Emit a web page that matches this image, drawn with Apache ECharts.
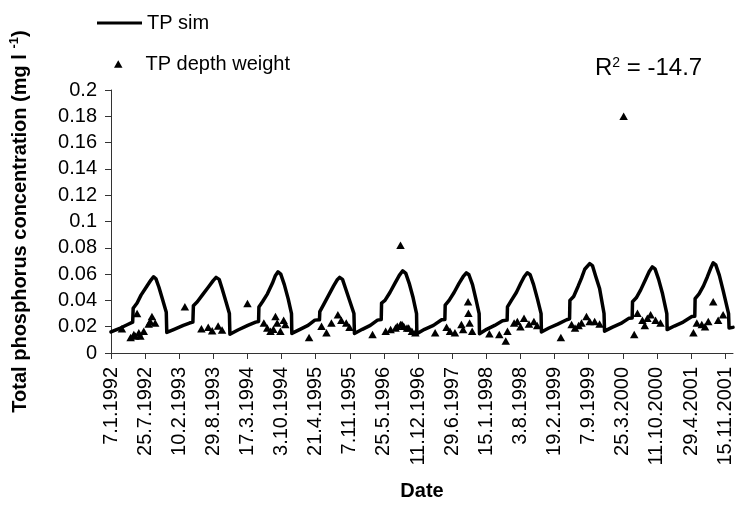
<!DOCTYPE html>
<html>
<head>
<meta charset="utf-8">
<script src="https://cdn.jsdelivr.net/npm/echarts@6/dist/echarts.min.js"></script>
<style>
html,body{margin:0;padding:0;background:#fff;}
#chart{width:737px;height:506px;}
</style>
</head>
<body>
<div id="chart"></div>
<script>
// x tick labels (dates, d.m.yyyy)
const xTickLabels = ['7.1.1992','25.7.1992','10.2.1993','29.8.1993','17.3.1994','3.10.1994','21.4.1995','7.11.1995','25.5.1996','11.12.1996','29.6.1997','15.1.1998','3.8.1998','19.2.1999','7.9.1999','25.3.2000','11.10.2000','29.4.2001','15.11.2001'];
const axisEndDate = '31.12.2001';
const yTicks = [0,0.02,0.04,0.06,0.08,0.1,0.12,0.14,0.16,0.18,0.2];

// TP sim: x = days since 7.1.1992, y = mg/l
const simDay = [
0, 55, 95, 127,
130, 153, 176, 211, 234, 250, 263, 281, 304, 324, 327,
367, 424, 460, 480,
483, 506, 535, 570, 599, 616, 634, 651, 674, 694, 697,
744, 802, 848, 865,
867, 888, 917, 946, 964, 979, 995, 1016, 1039, 1058, 1060,
1108, 1155, 1195, 1222,
1224, 1247, 1276, 1305, 1325, 1340, 1357, 1375, 1401, 1424, 1427,
1473, 1520, 1562, 1584,
1586, 1606, 1635, 1664, 1690, 1710, 1728, 1748, 1771, 1791, 1793,
1838, 1890, 1938, 1957,
1959, 1982, 2011, 2040, 2064, 2083, 2098, 2119, 2139, 2158, 2160,
2202, 2249, 2295, 2322,
2324, 2347, 2376, 2402, 2422, 2440, 2457, 2477, 2500, 2521, 2523,
2567, 2619, 2671, 2688,
2690, 2712, 2739, 2758, 2777, 2806, 2822, 2842, 2864, 2890, 2893,
2937, 2989, 3037, 3055,
3057, 3079, 3105, 3134, 3155, 3173, 3189, 3210, 3233, 3258, 3260,
3302, 3354, 3405, 3422,
3424, 3447, 3473, 3496, 3514, 3530, 3545, 3566, 3589, 3620, 3623,
3646];
const simTP = [
0.0160, 0.0190, 0.0215, 0.0235,
0.0340, 0.0380, 0.0440, 0.0510, 0.0555, 0.0580, 0.0565, 0.0500, 0.0400, 0.0310, 0.0156,
0.0178, 0.0210, 0.0228, 0.0235,
0.0360, 0.0390, 0.0440, 0.0500, 0.0550, 0.0575, 0.0560, 0.0490, 0.0390, 0.0300, 0.0142,
0.0175, 0.0210, 0.0235, 0.0240,
0.0350, 0.0390, 0.0450, 0.0530, 0.0590, 0.0617, 0.0600, 0.0520, 0.0410, 0.0300, 0.0149,
0.0180, 0.0210, 0.0250, 0.0252,
0.0315, 0.0370, 0.0440, 0.0510, 0.0555, 0.0575, 0.0560, 0.0490, 0.0390, 0.0300, 0.0148,
0.0180, 0.0210, 0.0250, 0.0255,
0.0380, 0.0400, 0.0460, 0.0530, 0.0590, 0.0625, 0.0605, 0.0530, 0.0420, 0.0300, 0.0146,
0.0180, 0.0210, 0.0253, 0.0255,
0.0364, 0.0400, 0.0460, 0.0530, 0.0580, 0.0610, 0.0595, 0.0520, 0.0410, 0.0300, 0.0146,
0.0180, 0.0210, 0.0245, 0.0250,
0.0350, 0.0400, 0.0460, 0.0530, 0.0580, 0.0610, 0.0595, 0.0520, 0.0410, 0.0300, 0.0160,
0.0190, 0.0220, 0.0253, 0.0260,
0.0400, 0.0430, 0.0510, 0.0570, 0.0637, 0.0680, 0.0665, 0.0580, 0.0490, 0.0300, 0.0166,
0.0195, 0.0225, 0.0265, 0.0267,
0.0390, 0.0420, 0.0480, 0.0560, 0.0620, 0.0655, 0.0640, 0.0560, 0.0450, 0.0300, 0.0178,
0.0205, 0.0235, 0.0277, 0.0280,
0.0414, 0.0450, 0.0510, 0.0580, 0.0640, 0.0686, 0.0670, 0.0590, 0.0470, 0.0300, 0.0190,
0.0195];

// TP depth weight observations: x = days since 7.1.1992
const obsDay = [64, 115, 134, 143, 153, 163, 172, 192, 221, 230, 240, 259,
433,
530, 570, 593, 628, 651,
800,
896, 916, 935, 952, 964, 974, 993, 1012, 1022,
1161,
1234, 1263, 1292, 1330, 1350, 1379, 1398,
1533,
1610, 1639, 1668, 1678, 1697, 1697, 1706, 1716, 1735, 1745, 1764, 1784,
1900,
1967, 1987, 2016, 2054, 2064, 2093, 2095, 2102, 2117,
2218, 2276, 2314, 2324,
2363, 2382, 2400, 2421, 2450, 2479, 2498,
2637,
2700, 2720, 2741, 2758, 2787, 2806, 2835, 2864,
3005,
3067, 3086, 3115, 3129, 3144, 3163, 3192, 3221,
3414, 3434, 3463, 3482, 3501, 3530, 3559, 3588];
const obsTP = [0.0185, 0.0117, 0.0141, 0.0129, 0.0300, 0.0154, 0.0129, 0.0166, 0.0220, 0.0240, 0.0277, 0.0228,
0.0352,
0.0185, 0.0195, 0.0170, 0.0205, 0.0175,
0.0377,
0.0228, 0.0190, 0.0166, 0.0180, 0.0277, 0.0228, 0.0166, 0.0250, 0.0216,
0.0117,
0.0203, 0.0154, 0.0228, 0.0290, 0.0250, 0.0228, 0.0196,
0.0141,
0.0166, 0.0178, 0.0190, 0.0203, 0.0216, 0.0820, 0.0216, 0.0203, 0.0190, 0.0190, 0.0166, 0.0154,
0.0154,
0.0196, 0.0166, 0.0154, 0.0216, 0.0178, 0.0389, 0.0303, 0.0228, 0.0166,
0.0146, 0.0141, 0.0091, 0.0166,
0.0228, 0.0240, 0.0200, 0.0265, 0.0220, 0.0240, 0.0210,
0.0117,
0.0216, 0.0190, 0.0210, 0.0228, 0.0277, 0.0240, 0.0240, 0.0220,
0.1800,
0.0141, 0.0303, 0.0250, 0.0210, 0.0265, 0.0290, 0.0250, 0.0228,
0.0154, 0.0228, 0.0216, 0.0200, 0.0240, 0.0389, 0.0250, 0.0290];

const r2Text = '-14.7';

function parseDMY(s){ const p = s.split('.').map(Number); return Date.UTC(p[2], p[1]-1, p[0]); }
const DAY = 86400000;
const epoch = parseDMY(xTickLabels[0]);
const tickDays = xTickLabels.map(s => Math.round((parseDMY(s) - epoch) / DAY));
const endDay = Math.round((parseDMY(axisEndDate) - epoch) / DAY);
const labelByDay = {};
tickDays.forEach((d, i) => { labelByDay[d] = xTickLabels[i]; });

const FONT = "'Liberation Sans', Arial, Helvetica, sans-serif";
const chart = echarts.init(document.getElementById('chart'), null, {renderer: 'canvas'});
chart.setOption({
  animation: false,
  backgroundColor: '#fff',
  grid: {left: 103, top: 90, width: 630, height: 269, containLabel: false},
  legend: [
    {data: [{name: 'TP sim', icon: 'rect'}], left: 97, top: 13, padding: 0, itemWidth: 45, itemHeight: 3, itemGap: 0,
     itemStyle: {color: '#000'},
     textStyle: {fontFamily: FONT, fontSize: 20, color: '#000', lineHeight: 20}},
    {data: [{name: 'TP depth weight', icon: 'triangle'}], left: 114, top: 54, padding: 0, itemWidth: 8.5, itemHeight: 7.5,
     itemStyle: {color: '#000', opacity: 1},
     textStyle: {fontFamily: FONT, fontSize: 20, color: '#000', lineHeight: 20, padding: [0,0,0,18]}}
  ],
  graphic: [{
    type: 'text', left: 595, top: 56,
    style: {
      text: '{a|R}{s|2}{a| = ' + r2Text + '}',
      rich: {
        a: {fontFamily: FONT, fontSize: 24, lineHeight: 24, fill: '#000', verticalAlign: 'top'},
        s: {fontFamily: FONT, fontSize: 14, lineHeight: 14, fill: '#000', verticalAlign: 'top'}
      }
    }
  }],
  xAxis: {
    type: 'value', min: 0, max: endDay, interval: 200,
    name: 'Date', nameLocation: 'middle', nameGap: 128,
    nameTextStyle: {fontFamily: FONT, fontSize: 20, fontWeight: 'bold', color: '#000', lineHeight: 20},
    axisLine: {show: true, onZero: false, lineStyle: {color: '#333', width: 1}},
    axisTick: {show: true, inside: false, length: 6, customValues: tickDays, lineStyle: {color: '#333'}},
    axisLabel: {rotate: 90, margin: 14, fontFamily: FONT, fontSize: 20, color: '#000',
      customValues: tickDays,
      formatter: v => labelByDay[Math.round(v)] || ''},
    splitLine: {show: false}
  },
  yAxis: {
    type: 'value', min: 0, max: 0.2, interval: 0.02,
    name: '{a|Total phosphorus concentration (mg l }{s|-1}{a|)}',
    nameLocation: 'middle', nameRotate: 90, nameGap: 81,
    nameTextStyle: {
      fontFamily: FONT, fontSize: 20, fontWeight: 'bold', color: '#000',
      rich: {
        a: {fontFamily: FONT, fontSize: 20, fontWeight: 'bold', color: '#000', lineHeight: 22, verticalAlign: 'bottom'},
        s: {fontFamily: FONT, fontSize: 13, fontWeight: 'bold', color: '#000', lineHeight: 22, verticalAlign: 'top'}
      }
    },
    axisLine: {show: true, lineStyle: {color: '#333', width: 1}},
    axisTick: {show: true, inside: false, length: 6, lineStyle: {color: '#333'}},
    axisLabel: {margin: 14, fontFamily: FONT, fontSize: 20, color: '#000',
      formatter: v => String(Number(v.toFixed(2)))},
    splitLine: {show: false}
  },
  series: [
    {name: 'TP sim', type: 'line', symbol: 'none', showSymbol: false,
     data: simDay.map((d, i) => [d, simTP[i]]),
     lineStyle: {color: '#000', width: 3.5, join: 'round', cap: 'round'},
     itemStyle: {color: '#000'}, z: 2},
    {name: 'TP depth weight', type: 'scatter', symbol: 'triangle', symbolSize: [8.5, 7.5],
     data: obsDay.map((d, i) => [d, obsTP[i]]),
     itemStyle: {color: '#000', opacity: 1}, z: 3}
  ]
});
</script>
</body>
</html>
